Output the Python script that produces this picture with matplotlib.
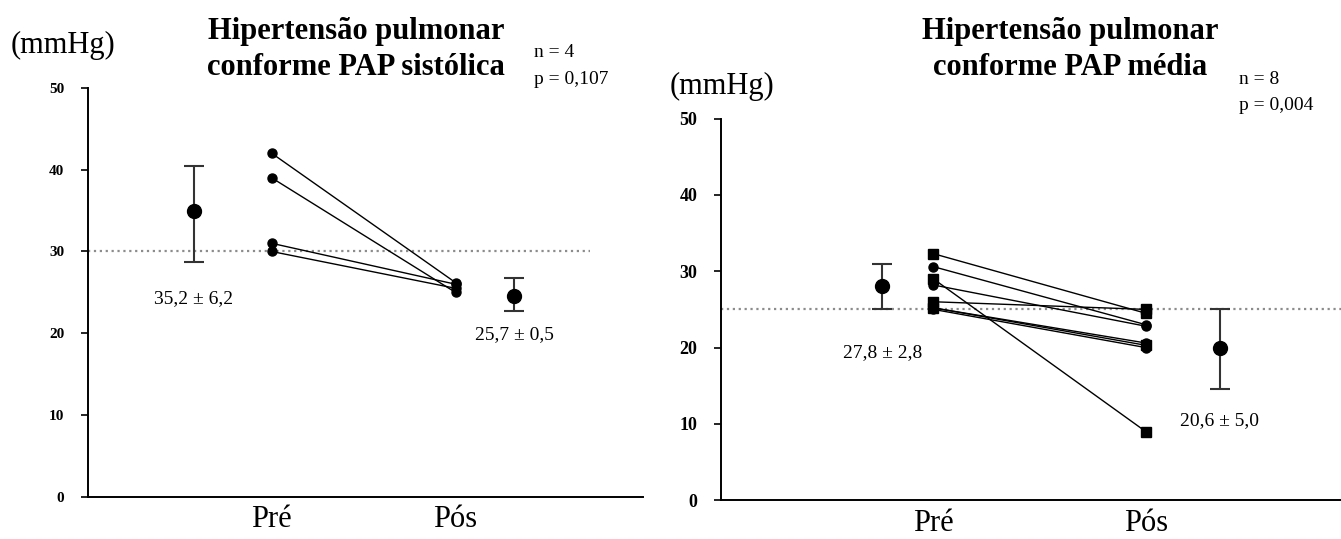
"""Pulmonary hypertension before/after plot (two panels)."""

import matplotlib
matplotlib.use('Agg')
import matplotlib.pyplot as plt

plt.rcParams['font.family'] = ['Liberation Serif', 'DejaVu Serif']

# ---- data ----
groups = ['Pré', 'Pós']

# left panel: PAP sistólica
sis_pre = [42.0, 39.0, 31.0, 30.0]
sis_pos = [26.2, 25.0, 26.0, 25.5]
sis_mean = [35.0, 24.6]
sis_lo = [28.7, 22.7]
sis_hi = [40.5, 26.7]
sis_labels = ['35,2 ± 6,2', '25,7 ± 0,5']
sis_ref = 30

# right panel: PAP média
med_pre = [32.3, 30.6, 29.0, 28.2, 26.0, 25.2, 25.2, 25.0]
med_pos = [24.5, 23.0, 9.0, 22.8, 25.0, 20.6, 20.3, 20.0]
med_mean = [28.1, 20.0]
med_lo = [25.1, 14.6]
med_hi = [31.0, 25.1]
med_labels = ['27,8 ± 2,8', '20,6 ± 5,0']
med_ref = 25

yticks = [0, 10, 20, 30, 40, 50]


def draw_panel(ax, pre, pos, mean, lo, hi, labels, ref, mean_x, label_y,
               xmax, ref_end, markers, tick_size):
    # reference dotted line
    ax.plot([0, ref_end], [ref, ref], color='0.55', linestyle=':', linewidth=1.6, zorder=1)

    # paired subjects
    for a, b, m in zip(pre, pos, markers):
        ax.plot([1, 2], [a, b], color='black', linewidth=1.0, marker=m,
                markersize=6.5, zorder=3)

    # mean +- sd
    for x, m, l, h in zip(mean_x, mean, lo, hi):
        ax.errorbar([x], [m], yerr=[[m - l], [h - m]], fmt='o', color='black',
                    ecolor='0.2', markersize=10, capsize=7, capthick=1.5,
                    elinewidth=1.5, zorder=3)

    for x, y, t in zip(mean_x, label_y, labels):
        ax.text(x, y, t, ha='center', va='center', fontsize=14)

    ax.set_xlim(0, xmax)
    ax.set_ylim(0, 50)
    ax.set_yticks(yticks)
    ax.set_yticklabels([str(v) for v in yticks], fontsize=tick_size, fontweight='bold')
    ax.set_xticks([1, 2])
    ax.set_xticklabels(groups, fontsize=22)
    ax.tick_params(axis='x', length=0, pad=6)
    ax.tick_params(axis='y', length=5, width=1.2, pad=12)
    for s in ['top', 'right']:
        ax.spines[s].set_visible(False)
    for s in ['left', 'bottom']:
        ax.spines[s].set_linewidth(1.4)


fig = plt.figure(figsize=(13.41, 5.39), dpi=100)

ax1 = fig.add_axes([0.0656, 0.078, 0.4139, 0.759])
draw_panel(ax1, sis_pre, sis_pos, sis_mean, sis_lo, sis_hi, sis_labels, sis_ref,
           mean_x=[0.576, 2.32], label_y=[24.3, 19.8], xmax=3.02, ref_end=2.73,
           markers=['o', 'o', 'o', 'o'], tick_size=11)

ax2 = fig.add_axes([0.5377, 0.072, 0.4623, 0.708])
draw_panel(ax2, med_pre, med_pos, med_mean, med_lo, med_hi, med_labels, med_ref,
           mean_x=[0.76, 2.35], label_y=[19.3, 10.4], xmax=2.92, ref_end=2.92,
           markers=['s', 'o', 's', 'o', 's', 'o', 's', 'o'], tick_size=13)

# titles and annotations
fig.text(0.2655, 0.908, 'Hipertensão pulmonar\nconforme PAP sistólica', ha='center',
         va='center', fontsize=22, fontweight='bold', linespacing=1.35)
fig.text(0.798, 0.908, 'Hipertensão pulmonar\nconforme PAP média', ha='center',
         va='center', fontsize=22, fontweight='bold', linespacing=1.35)

fig.text(0.008, 0.9165, '(mmHg)', ha='left', va='center', fontsize=22)
fig.text(0.4996, 0.840, '(mmHg)', ha='left', va='center', fontsize=22)

fig.text(0.398, 0.903, 'n = 4', ha='left', va='center', fontsize=14)
fig.text(0.398, 0.853, 'p = 0,107', ha='left', va='center', fontsize=14)
fig.text(0.924, 0.853, 'n = 8', ha='left', va='center', fontsize=14)
fig.text(0.924, 0.805, 'p = 0,004', ha='left', va='center', fontsize=14)

fig.savefig('out.png', dpi=100)
